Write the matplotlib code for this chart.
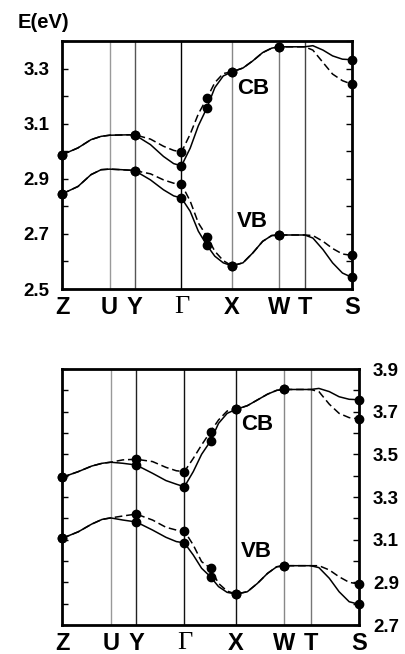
import matplotlib
matplotlib.use('Agg')
import matplotlib.pyplot as plt
import numpy as np

#=====data=====
kpath = [0, 0.055, 0.10, 0.135, 0.164, 0.205, 0.25, 0.305, 0.35, 0.385, 0.412, 0.442, 0.47, 0.5,
         0.527, 0.556, 0.586, 0.624, 0.658, 0.692, 0.723, 0.748, 0.837, 0.865, 0.9, 0.933, 0.967, 1.0]
sym_k = [0, 0.164, 0.25, 0.412, 0.586, 0.748, 0.837, 1.0]
sym_labels = ['Z', 'U', 'Y', 'Γ', 'X', 'W', 'T', 'S']
marker_idx = [0, 6, 10, 13, 16, 21, 27]

# top panel
top_cb_solid = [2.987, 3.012, 3.042, 3.054, 3.058, 3.059, 3.060, 3.024, 2.981, 2.955, 2.947, 3.011, 3.092, 3.158,
                3.231, 3.273, 3.288, 3.302, 3.328, 3.358, 3.374, 3.379, 3.379, 3.383, 3.367, 3.346, 3.334, 3.332]
top_cb_dash = [2.987, 3.012, 3.042, 3.054, 3.058, 3.059, 3.060, 3.044, 3.018, 3.003, 2.997, 3.062, 3.135, 3.193,
               3.249, 3.282, 3.288, 3.302, 3.328, 3.358, 3.374, 3.379, 3.379, 3.367, 3.322, 3.280, 3.256, 3.243]
top_vb_solid = [2.845, 2.872, 2.915, 2.933, 2.935, 2.933, 2.930, 2.896, 2.860, 2.838, 2.830, 2.782, 2.710, 2.658,
                2.619, 2.595, 2.584, 2.595, 2.631, 2.673, 2.694, 2.696, 2.696, 2.685, 2.643, 2.595, 2.558, 2.542]
top_vb_dash = [2.845, 2.872, 2.915, 2.933, 2.935, 2.933, 2.930, 2.918, 2.896, 2.884, 2.880, 2.819, 2.740, 2.690,
               2.637, 2.603, 2.584, 2.595, 2.631, 2.673, 2.694, 2.696, 2.696, 2.694, 2.673, 2.647, 2.627, 2.622]

# bottom panel
bot_cb_solid = [3.392, 3.419, 3.445, 3.458, 3.463, 3.458, 3.450, 3.411, 3.377, 3.360, 3.348, 3.419, 3.500, 3.562,
                3.645, 3.692, 3.711, 3.728, 3.755, 3.782, 3.800, 3.804, 3.804, 3.809, 3.794, 3.770, 3.758, 3.756]
bot_cb_dash = [3.392, 3.419, 3.445, 3.458, 3.463, 3.474, 3.477, 3.466, 3.439, 3.423, 3.419, 3.481, 3.544, 3.606,
               3.661, 3.703, 3.711, 3.728, 3.755, 3.782, 3.800, 3.804, 3.804, 3.794, 3.735, 3.692, 3.672, 3.666]
bot_vb_solid = [3.106, 3.137, 3.173, 3.195, 3.202, 3.192, 3.183, 3.145, 3.111, 3.091, 3.085, 3.028, 2.966, 2.926,
                2.880, 2.853, 2.845, 2.856, 2.895, 2.942, 2.973, 2.978, 2.978, 2.969, 2.919, 2.856, 2.809, 2.797]
bot_vb_dash = [3.106, 3.137, 3.173, 3.195, 3.202, 3.211, 3.220, 3.192, 3.158, 3.145, 3.141, 3.075, 2.997, 2.966,
               2.895, 2.859, 2.845, 2.856, 2.895, 2.942, 2.973, 2.978, 2.978, 2.978, 2.958, 2.926, 2.900, 2.892]

top_yticks = [2.5, 2.7, 2.9, 3.1, 3.3]
bot_yticks = [2.7, 2.9, 3.1, 3.3, 3.5, 3.7, 3.9]

top_vline_colors = ['#9a9a9a', '#555555', '#000000', '#888888', '#777777', '#444444']
bot_vline_colors = ['#999999', '#222222', '#111111', '#111111', '#888888', '#777777']

plt.rcParams['font.family'] = ['Liberation Sans', 'DejaVu Sans']
fig = plt.figure(figsize=(4.06, 6.54), dpi=100)
ax1 = fig.add_axes([62/406, 1-289/654, 290/406, 248/654])
ax2 = fig.add_axes([62/406, 1-625/654, 297/406, 256/654])


def draw_panel(ax, curves, vcolors, yticks, ylim, right_labels, cb_y, vb_y):
    for k, c in zip(sym_k[1:-1], vcolors):
        ax.axvline(k, color=c, lw=1.0, zorder=1)
    for vals, ls in curves:
        if ls == '-':
            ax.plot(kpath, vals, '-', color='black', lw=1.1, zorder=3)
        else:
            ax.plot(kpath, vals, color='black', lw=1.1, dashes=(5, 2.5), zorder=3)
        ax.plot([kpath[i] for i in marker_idx], [vals[i] for i in marker_idx], 'o',
                color='black', ms=6, zorder=4, clip_on=False)
    ax.set_xlim(0, 1)
    ax.set_ylim(*ylim)
    ax.set_yticks(yticks)
    ax.set_yticks(np.arange(ylim[0], ylim[1] + 0.001, 0.1), minor=True)
    ax.tick_params(axis='y', which='both', direction='in', left=True, right=True,
                   length=4, width=1)
    if right_labels:
        ax.tick_params(axis='y', labelleft=False, labelright=True, pad=10)
    else:
        ax.tick_params(axis='y', pad=9)
    ax.set_yticklabels(['%.1f' % v for v in yticks], fontweight='bold', fontsize=13.5)
    ax.set_xticks(sym_k)
    ax.set_xticklabels(sym_labels, fontsize=17, fontweight='bold')
    ax.tick_params(axis='x', length=0, pad=5)
    for lbl in ax.get_xticklabels():
        if lbl.get_text() == 'Γ':
            lbl.set_fontfamily('Liberation Serif')
            lbl.set_fontweight('normal')
            lbl.set_fontsize(19)
    for sp in ax.spines.values():
        sp.set_linewidth(2)
    ax.text(0.603, cb_y, 'CB', fontsize=16, fontweight='bold', va='center', ha='left')
    ax.text(0.603, vb_y, 'VB', fontsize=16, fontweight='bold', va='center', ha='left')


draw_panel(ax1, [(top_cb_solid, '-'), (top_cb_dash, '--'), (top_vb_solid, '-'), (top_vb_dash, '--')],
           top_vline_colors, top_yticks, (2.5, 3.4), False, 3.227, 2.744)
draw_panel(ax2, [(bot_cb_solid, '-'), (bot_cb_dash, '--'), (bot_vb_solid, '-'), (bot_vb_dash, '--')],
           bot_vline_colors, bot_yticks, (2.7, 3.9), True, 3.638, 3.044)

fig.text(18/406, 1-22/654, 'E(eV)', fontsize=14.5, fontweight='bold', va='center', ha='left')

fig.savefig('out.png', dpi=100)
